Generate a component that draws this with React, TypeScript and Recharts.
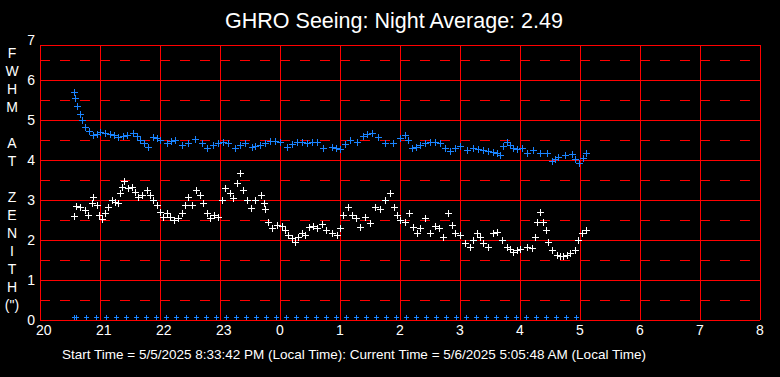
import React from "react";
import { ScatterChart, Scatter, XAxis, YAxis, ReferenceLine } from "recharts";

// Times in decimal hours since 20:00 of the start day (24.5 = 0:30 next day)
const blueTimes = [
  20.572, 20.583, 20.622, 20.667, 20.695, 20.75, 20.822, 20.888, 20.945, 21.0,
  21.083, 21.167, 21.233, 21.305, 21.375, 21.445, 21.555, 21.612, 21.667, 21.733,
  21.805, 21.888, 21.945, 22.0, 22.112, 22.183, 22.25, 22.362, 22.472, 22.583,
  22.695, 22.778, 22.888, 22.967, 23.055, 23.138, 23.25, 23.333, 23.417, 23.528,
  23.583, 23.667, 23.75, 23.833, 23.917, 24.0, 24.112, 24.195, 24.278, 24.362,
  24.445, 24.528, 24.612, 24.722, 24.862, 24.933, 25.0, 25.083, 25.167, 25.278,
  25.388, 25.45, 25.528, 25.638, 25.75, 25.888, 26.0, 26.083, 26.133, 26.195,
  26.267, 26.333, 26.417, 26.5, 26.583, 26.667, 26.75, 26.833, 26.917, 27.0,
  27.112, 27.222, 27.3, 27.388, 27.467, 27.555, 27.617, 27.667, 27.717, 27.778,
  27.833, 27.888, 27.95, 28.028, 28.112, 28.222, 28.333, 28.445, 28.528, 28.583,
  28.638, 28.75, 28.862, 28.917, 28.988, 29.045, 29.095,
];
const blueSeeing = [
  5.69, 5.54, 5.36, 5.14, 5.0, 4.83, 4.73, 4.62, 4.66, 4.71,
  4.68, 4.65, 4.62, 4.58, 4.6, 4.62, 4.67, 4.6, 4.5, 4.42,
  4.33, 4.58, 4.55, 4.5, 4.43, 4.47, 4.5, 4.37, 4.42, 4.52,
  4.42, 4.29, 4.37, 4.42, 4.46, 4.42, 4.29, 4.37, 4.43, 4.33,
  4.35, 4.37, 4.43, 4.48, 4.47, 4.46, 4.33, 4.4, 4.46, 4.44,
  4.42, 4.44, 4.46, 4.29, 4.33, 4.3, 4.27, 4.4, 4.5, 4.46,
  4.6, 4.64, 4.67, 4.58, 4.42, 4.43, 4.54, 4.62, 4.5, 4.29,
  4.33, 4.37, 4.42, 4.46, 4.44, 4.42, 4.3, 4.23, 4.3, 4.35,
  4.25, 4.31, 4.28, 4.25, 4.23, 4.21, 4.17, 4.13, 4.35, 4.46,
  4.38, 4.29, 4.27, 4.29, 4.17, 4.25, 4.17, 4.17, 3.98, 4.03,
  4.08, 4.13, 4.14, 4.02, 3.93, 4.04, 4.18,
];

const whiteTimes = [
  20.572, 20.6, 20.667, 20.75, 20.805, 20.862, 20.888, 20.955, 20.988, 21.028,
  21.083, 21.138, 21.195, 21.25, 21.305, 21.333, 21.362, 21.4, 21.472, 21.528,
  21.583, 21.638, 21.695, 21.778, 21.833, 21.888, 21.945, 22.0, 22.055, 22.112,
  22.167, 22.233, 22.305, 22.362, 22.417, 22.472, 22.528, 22.6, 22.667, 22.722,
  22.778, 22.833, 22.9, 22.972, 23.028, 23.083, 23.167, 23.222, 23.278, 23.333,
  23.388, 23.445, 23.512, 23.583, 23.678, 23.733, 23.75, 23.805, 23.862, 23.945,
  24.028, 24.083, 24.138, 24.195, 24.25, 24.305, 24.362, 24.417, 24.488, 24.555,
  24.612, 24.695, 24.767, 24.862, 24.945, 25.0, 25.055, 25.128, 25.195, 25.267,
  25.333, 25.417, 25.5, 25.583, 25.667, 25.75, 25.833, 25.9, 25.945, 26.0,
  26.083, 26.155, 26.222, 26.278, 26.333, 26.417, 26.5, 26.583, 26.655, 26.712,
  26.805, 26.862, 26.917, 27.0, 27.083, 27.167, 27.222, 27.278, 27.333, 27.388,
  27.472, 27.555, 27.622, 27.695, 27.778, 27.833, 27.888, 27.945, 28.0, 28.112,
  28.195, 28.25, 28.288, 28.333, 28.388, 28.433, 28.472, 28.528, 28.612, 28.667,
  28.722, 28.778, 28.833, 28.917, 28.972, 29.028, 29.095,
];
const whiteSeeing = [
  2.6, 2.85, 2.83, 2.75, 2.62, 2.92, 3.07, 2.87, 2.62, 2.52,
  2.68, 2.83, 3.0, 2.96, 2.92, 3.17, 3.33, 3.48, 3.29, 3.33,
  3.21, 3.08, 3.12, 3.25, 3.12, 3.0, 2.87, 2.71, 2.58, 2.67,
  2.58, 2.5, 2.54, 2.67, 2.87, 3.08, 2.87, 3.25, 3.12, 2.92,
  2.67, 2.54, 2.62, 2.57, 3.0, 3.29, 3.17, 3.04, 3.42, 3.67,
  3.25, 3.0, 2.79, 3.0, 3.12, 2.92, 2.77, 2.46, 2.29, 2.37,
  2.35, 2.25, 2.12, 2.04, 1.96, 2.07, 2.17, 2.12, 2.33, 2.35,
  2.29, 2.4, 2.25, 2.17, 2.12, 2.29, 2.62, 2.83, 2.62, 2.54,
  2.33, 2.58, 2.42, 2.83, 2.77, 3.0, 3.18, 2.83, 2.62, 2.5,
  2.46, 2.67, 2.33, 2.17, 2.29, 2.54, 2.17, 2.35, 2.29, 2.08,
  2.68, 2.37, 2.17, 2.12, 1.92, 1.83, 2.0, 2.17, 2.08, 1.92,
  1.83, 2.17, 2.21, 2.0, 1.83, 1.78, 1.71, 1.74, 1.77, 1.83,
  1.79, 2.08, 2.46, 2.71, 2.46, 2.25, 1.96, 1.75, 1.62, 1.6,
  1.6, 1.63, 1.67, 1.75, 2.0, 2.17, 2.25,
];

const baselineTimes = [
  20.56, 20.6, 20.77, 20.94, 21.1, 21.27, 21.44, 21.6, 21.77, 21.94, 22.1, 22.27,
  22.44, 22.6, 22.77, 22.94, 23.1, 23.27, 23.44, 23.6, 23.77, 23.94, 24.1, 24.27,
  24.44, 24.6, 24.77, 24.94, 25.1, 25.27, 25.44, 25.6, 25.77, 25.94, 26.1, 26.27,
  26.44, 26.6, 26.77, 26.94, 27.1, 27.27, 27.44, 27.6, 27.77, 27.94, 28.1, 28.27,
  28.44, 28.6, 28.77, 28.94,
];
const baselineValue = 0.07;

const hourTicks = [20, 21, 22, 23, 24, 25, 26, 27, 28, 29, 30, 31, 32];
const valueTicks = [0, 1, 2, 3, 4, 5, 6, 7];
const solidLevels = [0, 1, 2, 3, 4, 5, 6, 6.875];
const dashedLevels = [0.5, 1.5, 2.5, 3.5, 4.5, 5.5, 6.5];
const frameTop = 6.875;

const titleText = "GHRO Seeing: Night Average: 2.49";
const footerText =
  "Start Time = 5/5/2025 8:33:42 PM (Local Time): Current Time = 5/6/2025 5:05:48 AM (Local Time)";
const yLabelChars = ["F", "W", "H", "M", "", "A", "T", "", "Z", "E", "N", "I", "T", "H", "(\")"];

const blueData = blueTimes.map((t, i) => ({ t, v: blueSeeing[i] }));
const whiteData = whiteTimes.map((t, i) => ({ t, v: whiteSeeing[i] }));
const baselineData = baselineTimes.map((t) => ({ t, v: baselineValue }));

const FONT = "'Liberation Sans', Arial, sans-serif";
const RED = "#ff0000";
const BLUE = "#1a84ff";

const makePlus = (color: string, arm: number) => (props: any) => {
  const { cx, cy } = props;
  if (cx == null || cy == null) return <g />;
  const x = Math.round(cx);
  const y = Math.round(cy);
  return (
    <path
      d={`M${x - arm},${y + 0.5}h${2 * arm + 1}M${x + 0.5},${y - arm}v${2 * arm + 1}`}
      stroke={color}
      strokeWidth={1}
      fill="none"
      shapeRendering="crispEdges"
    />
  );
};

const XTick = (props: any) => {
  const { x, payload } = props;
  return (
    <text x={x - 4} y={335} fill="#fff" fontSize={14} fontFamily={FONT} textAnchor="start">
      {String(payload.value % 24)}
    </text>
  );
};

const YTick = (props: any) => {
  const { y, payload } = props;
  return (
    <text x={35} y={y} dy="0.36em" fill="#fff" fontSize={14} fontFamily={FONT} textAnchor="end">
      {String(payload.value)}
    </text>
  );
};

export default function App() {
  return (
    <div style={{ position: "absolute", left: 0, top: 0, width: 780, height: 377, background: "#000" }}>
      <ScatterChart width={780} height={377} margin={{ top: 40, right: 20, left: 0, bottom: 0 }}>
        <XAxis
          type="number"
          dataKey="t"
          domain={[20, 32]}
          ticks={hourTicks}
          allowDataOverflow
          axisLine={false}
          tickLine={false}
          height={57}
          tick={<XTick />}
          interval={0}
        />
        <YAxis
          type="number"
          dataKey="v"
          domain={[0, 7]}
          ticks={valueTicks}
          allowDataOverflow
          axisLine={false}
          tickLine={false}
          width={40}
          tick={<YTick />}
          interval={0}
        />
        {dashedLevels.map((lv) => (
          <ReferenceLine key={`d${lv}`} y={lv} stroke={RED} strokeWidth={1} strokeDasharray="10 10" ifOverflow="visible" shapeRendering="crispEdges" />
        ))}
        {solidLevels.map((lv) => (
          <ReferenceLine key={`s${lv}`} y={lv} stroke={RED} strokeWidth={1} ifOverflow="visible" shapeRendering="crispEdges" />
        ))}
        {hourTicks.map((h) => (
          <ReferenceLine
            key={`v${h}`}
            segment={[{ x: h, y: 0 }, { x: h, y: frameTop }]}
            stroke={RED}
            strokeWidth={1}
            ifOverflow="visible"
            shapeRendering="crispEdges"
          />
        ))}
        <Scatter data={whiteData} fill="#fff" shape={makePlus("#ffffff", 3)} isAnimationActive={false} />
        <Scatter data={blueData} fill={BLUE} shape={makePlus(BLUE, 3)} isAnimationActive={false} />
        <Scatter data={baselineData} fill={BLUE} shape={makePlus(BLUE, 2)} isAnimationActive={false} />
        <text x={394} y={28} fill="#fff" fontSize={21.5} fontFamily={FONT} textAnchor="middle">
          {titleText}
        </text>
        <text x={354} y={359} fill="#fff" fontSize={13.5} fontFamily={FONT} textAnchor="middle">
          {footerText}
        </text>
        <text x={12} y={58} fill="#fff" fontSize={14} fontFamily={FONT} textAnchor="middle">
          {yLabelChars.map((c, i) => (
            <tspan key={i} x={12} y={58 + i * 18}>
              {c}
            </tspan>
          ))}
        </text>
      </ScatterChart>
    </div>
  );
}
